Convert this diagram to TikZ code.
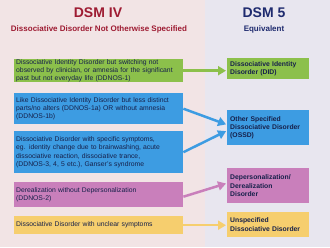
\documentclass[tikz,border=0pt]{standalone}
\usepackage{fontspec}
\setmainfont{Liberation Sans}
\usetikzlibrary{arrows.meta}
\definecolor{bgL}{HTML}{F2E4E5}
\definecolor{bgR}{HTML}{E8E6EF}
\definecolor{titleR}{HTML}{9E1B32}
\definecolor{titleB}{HTML}{1E2A6E}
\definecolor{txt}{HTML}{16204A}
\definecolor{cg}{HTML}{8CC04B}
\definecolor{cb}{HTML}{3D9CE2}
\definecolor{cp}{HTML}{C97FBB}
\definecolor{cy}{HTML}{F6CE6E}
\tikzset{
  lbox/.style={anchor=north west, text width=165pt, inner xsep=2pt, inner ysep=0pt, align=left, text=txt,
    font=\fontsize{6.8}{8.3}\selectfont},
  rbox/.style={anchor=north west, text width=76pt, inner xsep=3pt, inner ysep=0pt, align=left, text=txt,
    font=\fontsize{6.8}{8.3}\selectfont\bfseries},
  conn/.style={line width=2.5pt, -{Triangle[length=8pt,width=9pt]}, shorten >=1pt}
}
\begin{document}
\begin{tikzpicture}[x=1pt,y=-1pt]
\fill[bgL] (0,0) rectangle (205,247);
\fill[bgR] (205,0) rectangle (330,247);
\useasboundingbox (0,0) rectangle (330,247);
\node[text=titleR, font=\fontsize{14}{16}\selectfont\bfseries] (t1) at (98,13) {DSM IV};
\node[text=titleR, font=\fontsize{8}{9}\selectfont\bfseries] (s1) at (99,29) {Dissociative Disorder Not Otherwise Specified};
\node[text=titleB, font=\fontsize{14}{16}\selectfont\bfseries] (t2) at (264,13) {DSM 5};
\node[text=titleB, font=\fontsize{8}{9}\selectfont\bfseries] (s2) at (264,29) {Equivalent};
% left boxes
\node[lbox, fill=cg, minimum height=23pt] (l1) at (14,59) {Dissociative Identity Disorder but switching not\\observed by clinician, or amnesia for the significant\\past but not everyday life (DDNOS-1)};
\node[lbox, fill=cb, minimum height=31pt] (l2) at (14,93) {Like Dissociative Identity Disorder but less distinct\\parts/no alters (DDNOS-1a) OR without amnesia\\(DDNOS-1b)};
\node[lbox, fill=cb, minimum height=42pt] (l3) at (14,131) {Dissociative Disorder with specific symptoms,\\eg. identity change due to brainwashing, acute\\dissociative reaction, dissociative trance,\\(DDNOS-3, 4, 5 etc.), Ganser's syndrome};
\node[lbox, fill=cp, minimum height=25pt] (l4) at (14,182) {Derealization without Depersonalization\\(DDNOS-2)};
\node[lbox, fill=cy, minimum height=18pt] (l5) at (14,216) {Dissociative Disorder with unclear symptoms};
% right boxes
\node[rbox, fill=cg, minimum height=21pt] (r1) at (227,58) {Dissociative Identity\\Disorder (DID)};
\node[rbox, fill=cb, minimum height=35pt] (r2) at (227,110) {Other Specified\\Dissociative Disorder\\(OSSD)};
\node[rbox, fill=cp, minimum height=35pt] (r3) at (227,168) {Depersonalization/\\Derealization\\Disorder};
\node[rbox, fill=cy, minimum height=25pt] (r4) at (227,212) {Unspecified\\Dissociative Disorder};
% connectors
\draw[conn, draw=cg, fill=cg] (l1.east) -- (r1.west |- l1.east);
\draw[conn, draw=cb, fill=cb] (l2.east) -- ([yshift=3pt]r2.west);
\draw[conn, draw=cb, fill=cb] (l3.east) -- ([yshift=-3pt]r2.west);
\draw[conn, draw=cp, fill=cp] ([yshift=-2pt]l4.east) -- ([yshift=2.5pt]r3.west);
\draw[conn, draw=cy, fill=cy] (l5.east) -- (r4.west |- l5.east);
\end{tikzpicture}
\end{document}
